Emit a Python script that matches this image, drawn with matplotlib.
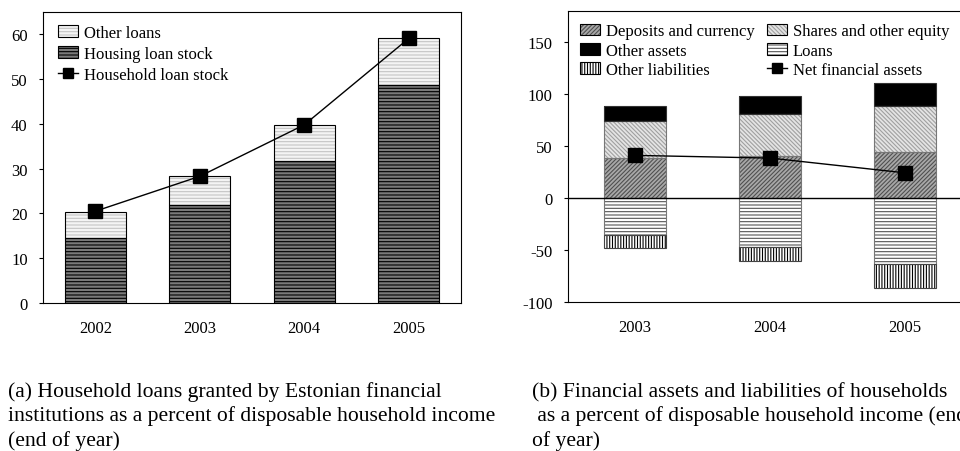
"""
Estonian household loans and financial balance sheet, two panels.
"""
import matplotlib
matplotlib.use('Agg')
import matplotlib.pyplot as plt
from matplotlib.patches import Patch
from matplotlib.lines import Line2D

plt.rcParams['font.family'] = ['Liberation Serif', 'DejaVu Serif']
plt.rcParams['hatch.linewidth'] = 0.8
plt.rcParams['axes.unicode_minus'] = False

# (a) loans as % of disposable income
years_a = ['2002', '2003', '2004', '2005']
housing_loans = [14.5, 21.9, 31.7, 48.7]
other_loans = [5.9, 6.4, 8.0, 10.4]
household_loans = [20.5, 28.3, 39.8, 59.1]

# (b) assets and liabilities as % of disposable income
years_b = ['2003', '2004', '2005']
deposits = [39.0, 40.5, 44.5]
shares = [35.0, 40.0, 44.6]
other_assets = [14.4, 18.2, 21.2]
loans = [-35.8, -46.4, -63.1]
other_liab = [-11.8, -14.1, -22.8]
net_assets = [41.2, 38.6, 24.4]

caption_a = ["(a) Household loans granted by Estonian financial",
             "institutions as a percent of disposable household income",
             "(end of year)"]
caption_b = ["(b) Financial assets and liabilities of households",
             " as a percent of disposable household income (end",
             "of year)"]


def hatched_bar(ax, x, h, bottom, width, face, hcol, hatch, edge):
    # hatch layer and outline drawn separately so hatch colour != edge colour
    ax.bar(x, h, width, bottom=bottom, color=face, edgecolor=hcol,
           hatch=hatch, linewidth=0, zorder=2)
    ax.bar(x, h, width, bottom=bottom, fill=False, edgecolor=edge,
           linewidth=0.8, zorder=3)
    return (Patch(facecolor=face, edgecolor=hcol, hatch=hatch, linewidth=0),
            Patch(fill=False, edgecolor='black', linewidth=0.8))


def style_axes(ax):
    for s in ax.spines.values():
        s.set_linewidth(0.8)
    ax.tick_params(axis='y', direction='out', length=3, width=0.8, pad=8, labelsize=12)
    ax.tick_params(axis='x', length=0, pad=12, labelsize=12)


fig = plt.figure(figsize=(9.6, 4.52), dpi=100)

# ---- panel (a)
ax1 = fig.add_axes([0.0448, 0.3274, 0.4354, 0.6438])
xa = range(len(years_a))
h_house = hatched_bar(ax1, xa, housing_loans, 0, 0.58, '#7a7a7a', 'black', '-----', 'black')
h_other = hatched_bar(ax1, xa, other_loans, housing_loans, 0.58, '#f4f4f4', '#c4c4c4', '-----', 'black')
ax1.plot(xa, household_loans, color='black', lw=1, marker='s', ms=9.5, zorder=4)
ax1.set_xlim(-0.5, 3.5)
ax1.set_ylim(0, 65)
ax1.set_yticks(range(0, 61, 10))
ax1.set_xticks(list(xa))
ax1.set_xticklabels(years_a)
style_axes(ax1)
line_h = Line2D([], [], color='black', lw=1, marker='s', ms=9.5)
ax1.legend([h_other, h_house, line_h],
           ['Other loans', 'Housing loan stock', 'Household loan stock'],
           loc='upper left', bbox_to_anchor=(0.037, 0.957), frameon=False,
           fontsize=12, handlelength=1.2, handleheight=0.7, handletextpad=0.35,
           labelspacing=0.3, borderaxespad=0, borderpad=0, markerscale=0.8)

# ---- panel (b)
ax2 = fig.add_axes([0.5914, 0.329, 0.4219, 0.6445])
xb = range(len(years_b))
w = 0.457
assets_base = [d + s for d, s in zip(deposits, shares)]
h_dep = hatched_bar(ax2, xb, deposits, 0, w, '#a8a8a8', '#505050', '////////', '#777777')
h_sh = hatched_bar(ax2, xb, shares, deposits, w, '#e4e4e4', '#a0a0a0', '\\\\\\\\\\\\\\\\', '#777777')
h_oa = hatched_bar(ax2, xb, other_assets, assets_base, w, 'black', 'black', None, '#333333')
h_ln = hatched_bar(ax2, xb, loans, 0, w, '#ffffff', '#555555', '-----', '#777777')
h_ol = hatched_bar(ax2, xb, other_liab, loans, w, '#ffffff', 'black', '||||||', '#444444')
ax2.axhline(0, color='black', lw=1, zorder=3.5)
ax2.plot(xb, net_assets, color='black', lw=1, marker='s', ms=9.5, zorder=4)
ax2.set_xlim(-0.5, 2.5)
ax2.set_ylim(-100, 180)
ax2.set_yticks(range(-100, 151, 50))
ax2.set_xticks(list(xb))
ax2.set_xticklabels(years_b)
style_axes(ax2)
line_n = Line2D([], [], color='black', lw=1, marker='s', ms=9.5)
# column-major fill: first column, then second
ax2.legend([h_dep, h_oa, h_ol, h_sh, h_ln, line_n],
           ['Deposits and currency', 'Other assets', 'Other liabilities',
            'Shares and other equity', 'Loans', 'Net financial assets'],
           loc='upper left', bbox_to_anchor=(0.030, 0.958), frameon=False, ncol=2,
           fontsize=12, handlelength=1.2, handleheight=0.7, handletextpad=0.35,
           labelspacing=0.2, columnspacing=0.75, borderaxespad=0, borderpad=0,
           markerscale=0.8)

# captions (the right one runs off the page edge, as in the source)
for i, line in enumerate(caption_a):
    fig.text(8 / 960, 1 - (397 + 24.5 * i) / 452, line, fontsize=15.6, va='baseline')
for i, line in enumerate(caption_b):
    fig.text(532 / 960, 1 - (397 + 24.5 * i) / 452, line, fontsize=15.6, va='baseline')

fig.savefig('out.png', dpi=100)
